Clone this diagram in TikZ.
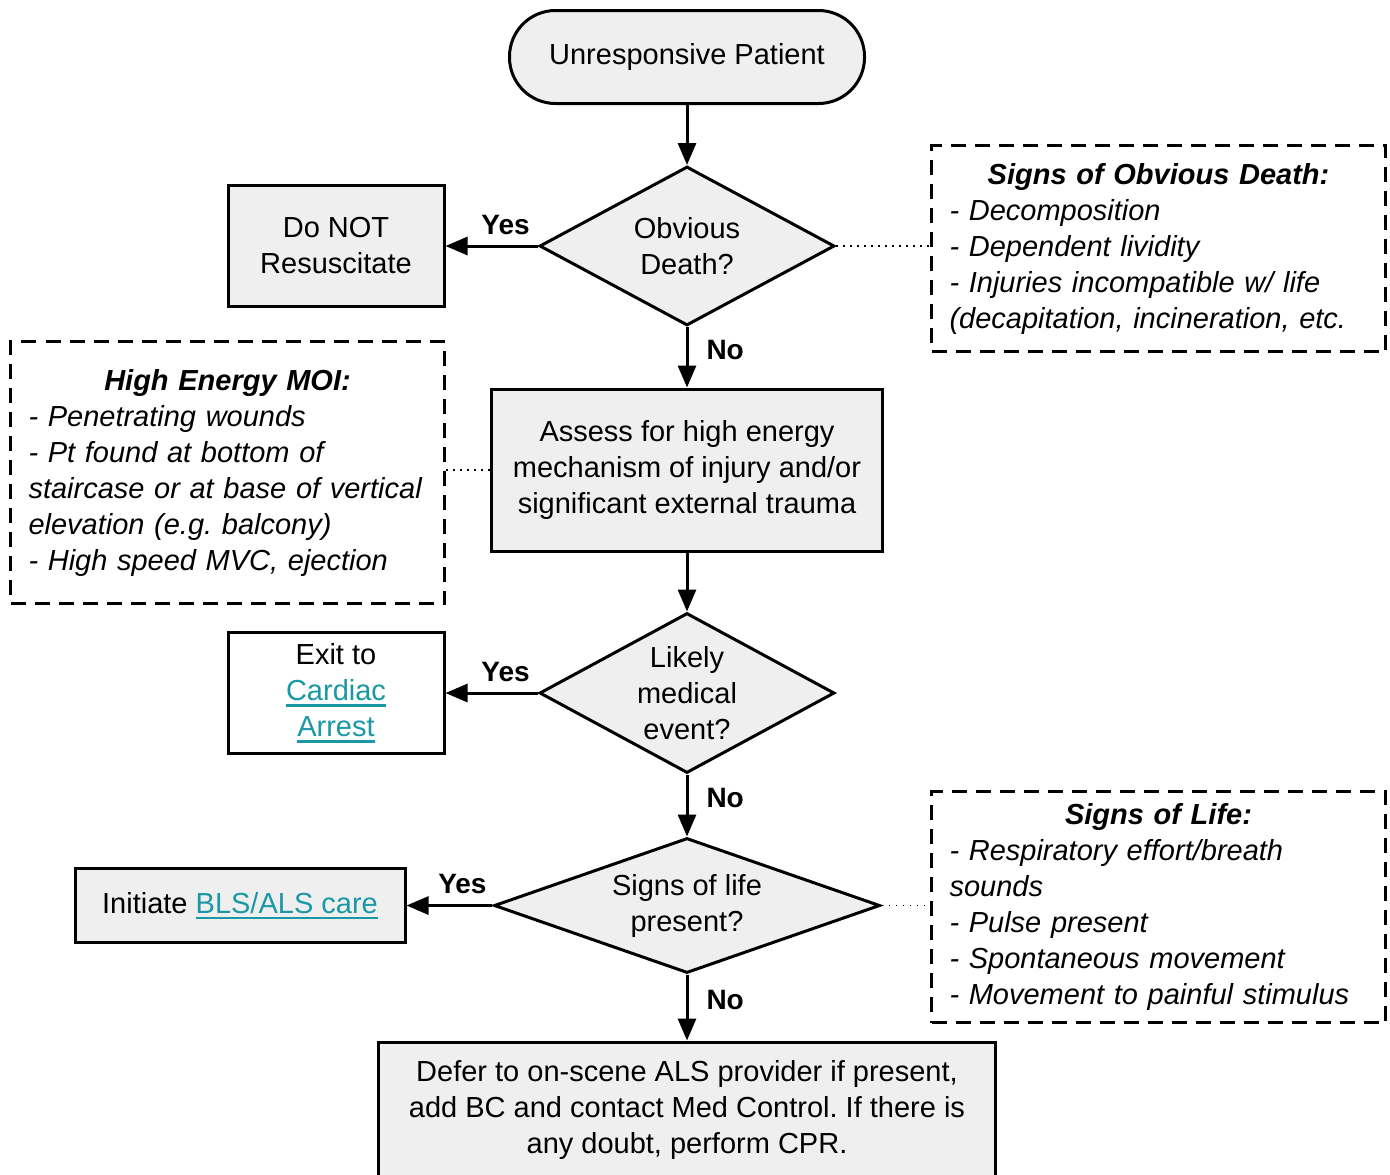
\documentclass[tikz,border=0pt]{standalone}
\usepackage{fontspec}
\setmainfont{Liberation Sans}
\usepackage{xcolor}
\usepackage{tikz}
\usetikzlibrary{positioning,arrows.meta,shapes.geometric}
\definecolor{boxfill}{HTML}{EFEFEF}
\definecolor{linkc}{HTML}{1A98A5}
\setlength{\parindent}{0pt}
\frenchspacing
\newcommand{\weblink}[1]{\textcolor{linkc}{\setbox0\hbox{#1}\rlap{\rule[-3pt]{\wd0}{1.2pt}}\box0}}

\begin{document}
\begin{tikzpicture}[x=0.5pt,y=-0.5pt,font=\fontsize{14.5}{18}\selectfont,line width=1.5pt,
  proc/.style={draw,fill=boxfill,align=center,inner sep=0pt},
  decision/.style={draw,fill=boxfill,diamond,align=center,inner sep=0pt},
  note/.style={draw,dash pattern=on 7.5pt off 4.5pt,anchor=north west,inner xsep=9pt,inner ysep=0pt,
    align=left,font=\fontsize{14.5}{18}\selectfont\itshape},
  flow/.style={-{Triangle[length=11pt,width=9pt]}},
  aside/.style={line width=0.8pt,dash pattern=on 0.8pt off 2.7pt},
  yes/.style={above=3pt,pos=0.35,inner sep=2pt,font=\fontsize{14}{16}\selectfont\bfseries},
  no/.style={right=7pt,pos=0.38,inner sep=2pt,font=\fontsize{14}{16}\selectfont\bfseries}]
\useasboundingbox (0,0) rectangle (1390,1174);
\node[proc,rounded corners=23pt,minimum width=177.5pt,minimum height=46.5pt] (start) at (687,57) {Unresponsive Patient};
\node[decision,minimum width=147.5pt,minimum height=79.5pt,aspect=1.85] (obv) at (687,246) {Obvious\\Death?};
\node[proc,minimum width=108pt,minimum height=60.5pt] (dnr) at (336,246) {Do NOT\\Resuscitate};
\node[note,text width=209pt,minimum height=103pt] (sod) at (930,144)
  {{\centering\bfseries Signs of Obvious Death:\par}- Decomposition\\- Dependent lividity\\- Injuries incompatible w/ life\\(decapitation, incineration, etc.};
\node[proc,minimum width=195.5pt,minimum height=81pt] (assess) at (687,470)
  {Assess for high energy\\mechanism of injury and/or\\significant external trauma};
\node[note,text width=199pt,minimum height=131pt] (moi) at (9,340)
  {{\centering\bfseries High Energy MOI:\par}- Penetrating wounds\\- Pt found at bottom of\\staircase or at base of vertical\\elevation (e.g. balcony)\\- High speed MVC, ejection};
\node[decision,minimum width=147.5pt,minimum height=80pt,aspect=1.85] (med) at (687,693) {Likely\\medical\\event?};
\node[proc,fill=white,minimum width=108pt,minimum height=60.5pt] (exit) at (336,693) {Exit to\\\weblink{Cardiac}\\\weblink{Arrest}};
\node[decision,minimum width=193pt,minimum height=67.5pt,aspect=2.86] (life) at (687,905.5) {Signs of life\\present?};
\node[proc,minimum width=165pt,minimum height=37pt] (init) at (240,905.5) {Initiate \weblink{BLS/ALS care}};
\node[note,text width=209pt,minimum height=115.5pt] (sol) at (930,790)
  {{\centering\bfseries Signs of Life:\par}- Respiratory effort/breath\\sounds\\- Pulse present\\- Spontaneous movement\\- Movement to painful stimulus};
\node[proc,minimum width=308.5pt,minimum height=68pt] (defer) at (687,1110)
  {Defer to on-scene ALS provider if present,\\add BC and contact Med Control. If there is\\any doubt, perform CPR.};
\draw[flow] (start) -- (obv);
\draw[flow] (obv) -- node[yes]{Yes} (dnr);
\draw[flow] (obv) -- node[no]{No} (assess);
\draw[aside] (obv.east) -- (obv.east -| sod.west);
\draw[aside] (moi.east |- assess.west) -- (assess.west);
\draw[flow] (assess) -- (med);
\draw[flow] (med) -- node[yes]{Yes} (exit);
\draw[flow] (med) -- node[no]{No} (life);
\draw[flow] (life) -- node[yes]{Yes} (init);
\draw[aside] (life.east) -- (life.east -| sol.west);
\draw[flow] (life) -- node[no]{No} (defer);
\end{tikzpicture}
\end{document}
